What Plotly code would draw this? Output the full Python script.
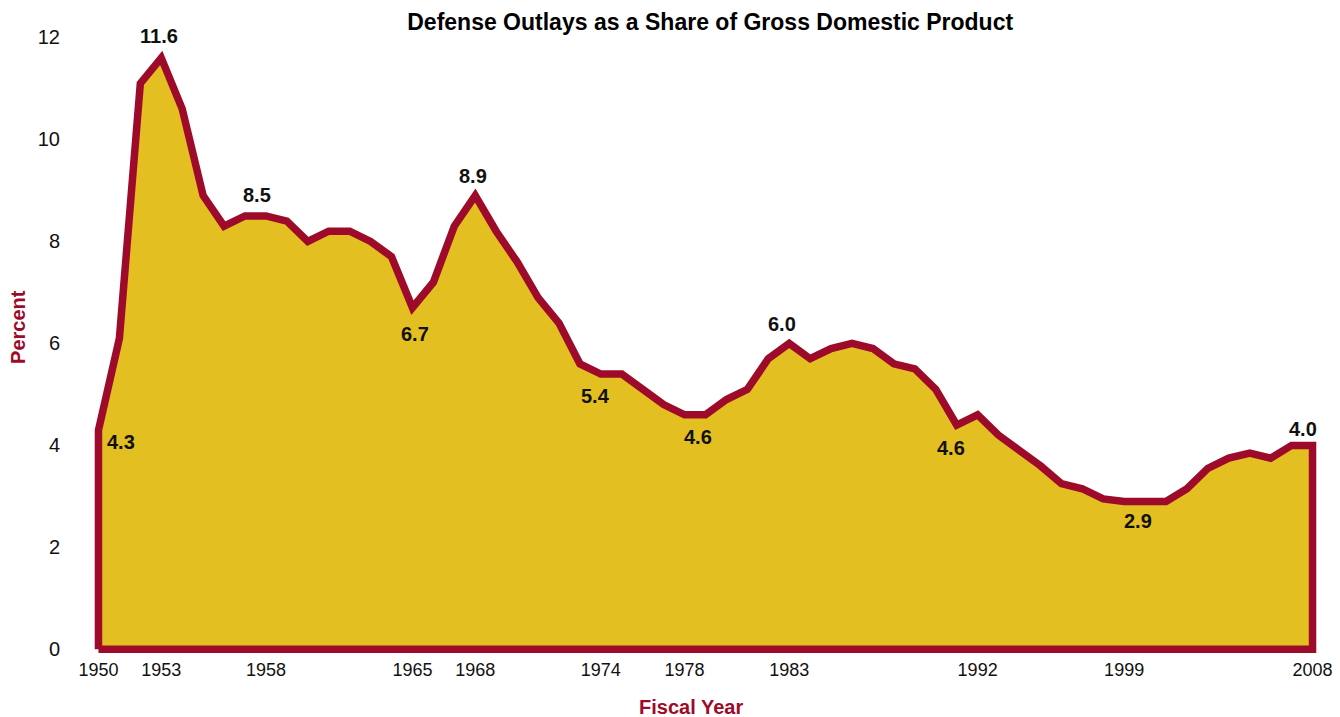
import plotly.graph_objects as go

years = list(range(1950, 2009))
outlays_pct_gdp = [
    4.3, 6.1, 11.1, 11.6, 10.6, 8.9, 8.3, 8.5, 8.5, 8.4,   # 1950-1959
    8.0, 8.2, 8.2, 8.0, 7.7, 6.7, 7.2, 8.3, 8.9, 8.2,      # 1960-1969
    7.6, 6.9, 6.4, 5.6, 5.4, 5.4, 5.1, 4.8, 4.6, 4.6,      # 1970-1979
    4.9, 5.1, 5.7, 6.0, 5.7, 5.9, 6.0, 5.9, 5.6, 5.5,      # 1980-1989
    5.1, 4.4, 4.6, 4.2, 3.9, 3.6, 3.25, 3.15, 2.95, 2.9,   # 1990-1999
    2.9, 2.9, 3.15, 3.55, 3.75, 3.85, 3.75, 4.0, 4.0,      # 2000-2008
]
x_tick_years = [1950, 1953, 1958, 1965, 1968, 1974, 1978, 1983, 1992, 1999, 2008]
y_tick_vals = [0, 2, 4, 6, 8, 10, 12]
label_years = [1950, 1953, 1958, 1965, 1968, 1974, 1978, 1983, 1991, 1999, 2008]
label_texts = ["4.3", "11.6", "8.5", "6.7", "8.9", "5.4", "4.6", "6.0", "4.6", "2.9", "4.0"]

# pixel offsets of each label from its point (style only)
label_offsets = {
    1950: (23, -12), 1953: (-2, 22), 1958: (-9, 21), 1965: (3, -26),
    1968: (-2, 20), 1974: (-5, -22), 1978: (13, -22), 1983: (-7, 19),
    1991: (-6, -23), 1999: (14, -20), 2008: (-10, 16),
}

RED = "#9E0B2A"
GOLD = "#E4BF22"
SANS = "Liberation Sans, Arial, sans-serif"

xs = [years[0]] + years + [years[-1], years[0]]
ys = [0] + outlays_pct_gdp + [0, 0]

fig = go.Figure()
fig.add_trace(go.Scatter(
    x=xs, y=ys, mode="lines", fill="toself", fillcolor=GOLD,
    line=dict(color=RED, width=7.5), hoverinfo="skip", showlegend=False,
))

val_by_year = dict(zip(years, outlays_pct_gdp))
for yr, txt in zip(label_years, label_texts):
    dx, dy = label_offsets[yr]
    fig.add_annotation(
        x=yr, y=val_by_year[yr], xref="x", yref="y", text=f"<b>{txt}</b>", showarrow=False,
        xshift=dx, yshift=dy, xanchor="center", yanchor="middle",
        font=dict(family=SANS, size=20, color="#111111"),
    )

# axis titles
fig.add_annotation(
    text="<b>Fiscal Year</b>", xref="paper", yref="paper", x=0.488, y=-0.078,
    xanchor="center", yanchor="middle", showarrow=False,
    font=dict(family=SANS, size=20, color=RED),
)
fig.add_annotation(
    text="<b>Percent</b>", xref="paper", yref="paper", x=-0.0563, y=0.5125,
    xanchor="center", yanchor="middle", showarrow=False, textangle=-90,
    font=dict(family=SANS, size=20, color=RED),
)

fig.update_layout(
    width=1340, height=717,
    margin=dict(l=88, r=8, t=12, b=60),
    paper_bgcolor="white", plot_bgcolor="white",
    title=dict(
        text="<b>Defense Outlays as a Share of Gross Domestic Product</b>",
        x=0.53, xanchor="center", y=1 - 22 / 717, yanchor="middle", yref="container",
        font=dict(family=SANS, size=23, color="#000000"),
    ),
    xaxis=dict(
        range=[1949.5, 2008.5], tickmode="array", tickvals=x_tick_years,
        ticktext=[str(v) for v in x_tick_years], ticklabeloverflow="allow",
        showgrid=False, zeroline=False, showline=False, ticks="",
        tickfont=dict(family=SANS, size=18, color="#111111"),
    ),
    yaxis=dict(
        range=[-0.15, 12.5], tickmode="array", tickvals=y_tick_vals,
        showgrid=False, zeroline=False, showline=False, ticks="",
        ticklabelstandoff=27,
        tickfont=dict(family=SANS, size=20, color="#111111"),
    ),
)

fig.write_html(
    "out.html",
    config={"displayModeBar": False},
    post_script="document.body.style.margin='0';document.body.style.overflow='hidden';",
)
